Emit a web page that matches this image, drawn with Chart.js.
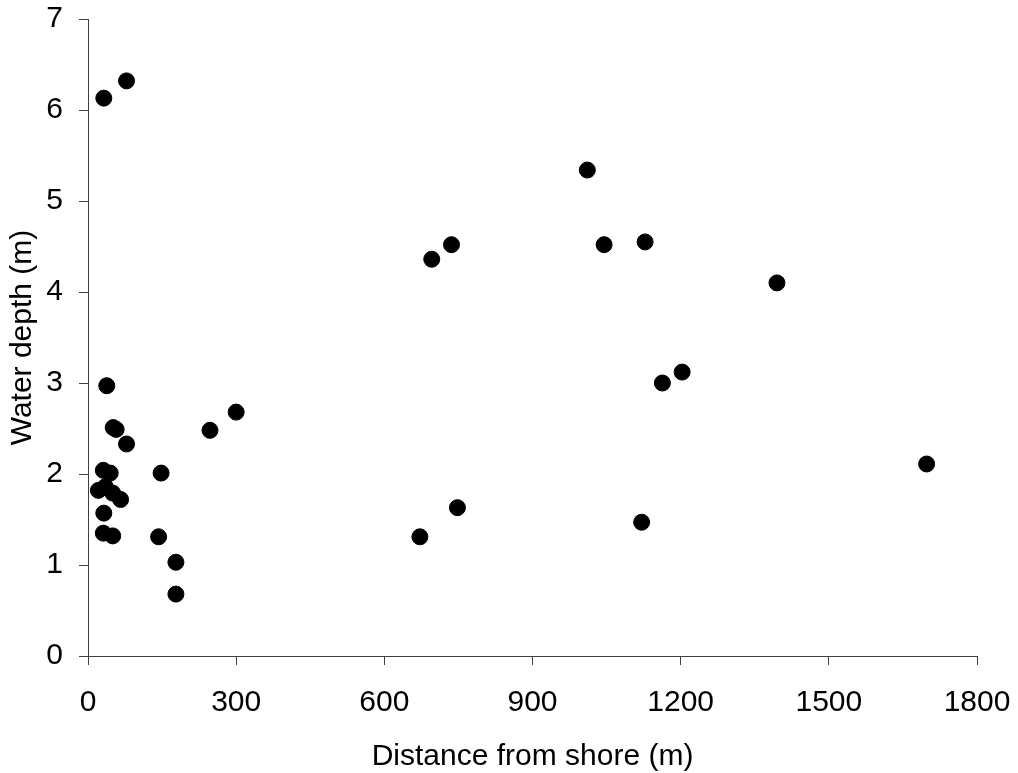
<!DOCTYPE html>
<html>
<head>
<meta charset="utf-8">
<script src="https://cdn.jsdelivr.net/npm/chart.js@4/dist/chart.umd.min.js"></script>
<style>
    html, body { margin: 0; padding: 0; background: #fff; }
    #wrap { width: 1018px; height: 773px; }
</style>
</head>
<body>
<div id="wrap"><canvas id="depthChart" width="1018" height="773"></canvas></div>
<script>
// Meetpunten: afstand tot de kust (m) en waterdiepte (m)
const distanceM = [
    32, 78, 38, 51, 57, 78, 31, 45, 21, 35, 50, 66, 32, 31, 50,
    143, 148, 178, 178, 247, 300,
    672, 696, 736, 748, 1011, 1045, 1121, 1128, 1163, 1203, 1395, 1698
];
const depthM = [
    6.13, 6.32, 2.97, 2.51, 2.49, 2.33, 2.04, 2.01, 1.82, 1.86, 1.79, 1.72, 1.57, 1.35, 1.32,
    1.31, 2.01, 1.03, 0.68, 2.48, 2.68,
    1.31, 4.36, 4.52, 1.63, 5.34, 4.52, 1.47, 4.55, 3.00, 3.12, 4.10, 2.11
];

// As-instellingen
const xTicks = [0, 300, 600, 900, 1200, 1500, 1800];
const yTicks = [0, 1, 2, 3, 4, 5, 6, 7];
const xTitle = 'Distance from shore (m)';
const yTitle = 'Water depth (m)';

const FONT = "'Liberation Sans', Arial, sans-serif";
const AXIS_COLOR = '#404040';

const points = distanceM.map((d, i) => ({ x: d, y: depthM[i] }));

function axisStyle() {
    return {
        grid: {
            display: true,
            drawOnChartArea: false,
            drawTicks: true,
            tickLength: 9,
            color: AXIS_COLOR,
            lineWidth: 1
        },
        border: { display: true, color: AXIS_COLOR, width: 1 }
    };
}

// vaste plotrand, los van de labelbreedte
function fixX(scale) {
    scale.height = 119;
    scale.paddingLeft = 0;
    scale.paddingRight = 0;
}
function fixY(scale) {
    scale.width = 88;
    scale.paddingTop = 0;
    scale.paddingBottom = 0;
}

const ctx = document.getElementById('depthChart');

new Chart(ctx, {
    type: 'scatter',
    data: {
        datasets: [{
            data: points,
            backgroundColor: '#000',
            borderColor: '#000',
            borderWidth: 1,
            pointRadius: 8,
            pointHoverRadius: 8
        }]
    },
    options: {
        responsive: false,
        animation: false,
        layout: {
            autoPadding: false,
            padding: { top: 19, right: 41, bottom: -2, left: 0 }
        },
        plugins: {
            legend: { display: false },
            tooltip: { enabled: false }
        },
        scales: {
            x: {
                type: 'linear',
                position: 'bottom',
                min: xTicks[0],
                max: xTicks[xTicks.length - 1],
                ...axisStyle(),
                afterBuildTicks: (scale) => { scale.ticks = xTicks.map(v => ({ value: v })); },
                afterFit: fixX,
                ticks: {
                    color: '#000',
                    padding: 20,
                    maxRotation: 0,
                    font: { family: FONT, size: 30 },
                    callback: (v) => String(v)
                },
                title: {
                    display: true,
                    text: xTitle,
                    color: '#000',
                    padding: { top: 0, bottom: 0 },
                    font: { family: FONT, size: 30, lineHeight: 1.2 }
                }
            },
            y: {
                type: 'linear',
                min: yTicks[0],
                max: yTicks[yTicks.length - 1],
                ...axisStyle(),
                afterBuildTicks: (scale) => { scale.ticks = yTicks.map(v => ({ value: v })); },
                afterFit: fixY,
                ticks: {
                    color: '#000',
                    padding: 16,
                    font: { family: FONT, size: 30 },
                    callback: (v) => String(v)
                },
                title: {
                    display: true,
                    text: yTitle,
                    color: '#000',
                    padding: { top: 5, bottom: 0 },
                    font: { family: FONT, size: 30, lineHeight: 1.2 }
                }
            }
        }
    }
});
</script>
</body>
</html>
